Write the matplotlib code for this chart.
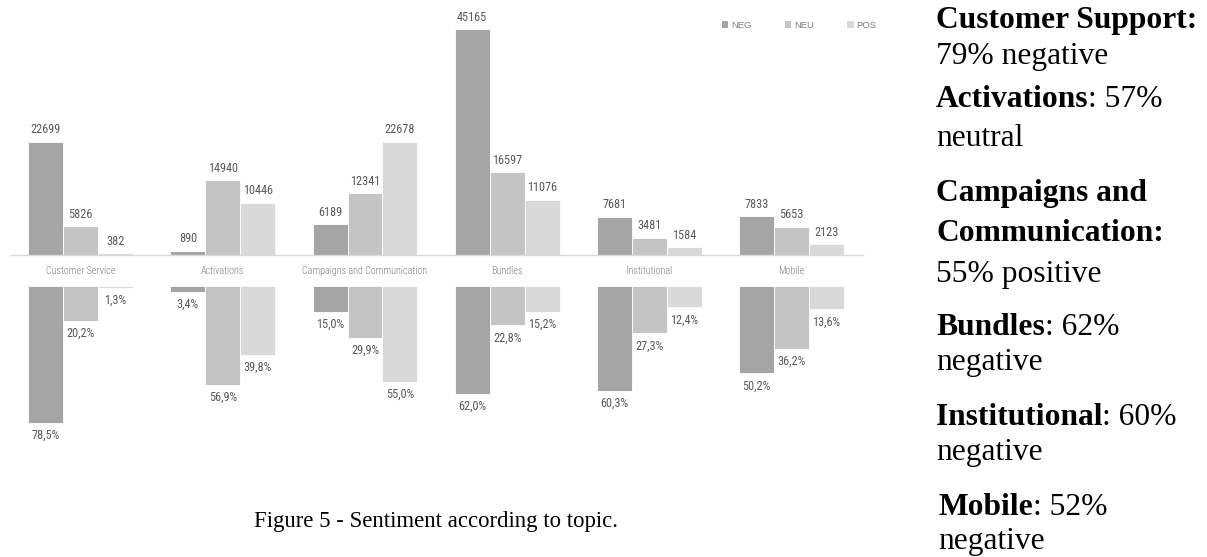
import matplotlib
matplotlib.use('Agg')
import matplotlib.pyplot as plt
from matplotlib.text import Annotation

# sentiment counts and shares per topic
topics = ['Customer Service', 'Activations', 'Campaigns and Communication',
          'Bundles', 'Institutional', 'Mobile']
series = ['NEG', 'NEU', 'POS']
neg_count = [22699, 890, 6189, 45165, 7681, 7833]
neu_count = [5826, 14940, 12341, 16597, 3481, 5653]
pos_count = [382, 10446, 22678, 11076, 1584, 2123]
neg_pct = [78.5, 3.4, 15.0, 62.0, 60.3, 50.2]
neu_pct = [20.2, 56.9, 29.9, 22.8, 27.3, 36.2]
pos_pct = [1.3, 39.8, 55.0, 15.2, 12.4, 13.6]

# side notes: (bold head, regular tail) per line
notes = [
    [('Customer Support:', ''), ('', '79% negative')],
    [('Activations', ': 57%'), ('', 'neutral')],
    [('Campaigns and', ''), ('Communication:', ''), ('', '55% positive')],
    [('Bundles', ': 62%'), ('', 'negative')],
    [('Institutional', ': 60%'), ('', 'negative')],
    [('Mobile', ': 52%'), ('', 'negative')],
]
caption = 'Figure 5 - Sentiment according to topic.'

COLORS = ['#a5a5a5', '#c4c4c4', '#d9d9d9']
C_VAL = '#595959'
C_CAT = '#7f7f7f'
NARROW = ['Roboto Condensed', 'Roboto', 'DejaVu Sans']
SERIF = ['Liberation Serif', 'DejaVu Serif']

W, H = 1207, 557
fig = plt.figure(figsize=(W / 100, H / 100), dpi=100)


def px_axes(left, top, right, bottom):
    return fig.add_axes([left / W, 1 - bottom / H, (right - left) / W, (bottom - top) / H])


bw = 0.246
offsets = [-bw, 0, bw]
x = list(range(len(topics)))

# top: absolute counts
ax = px_axes(9.5, 0, 862.7, 255)
for k, vals in enumerate([neg_count, neu_count, pos_count]):
    xs = [i + offsets[k] for i in x]
    bars = ax.bar(xs, vals, width=bw, color=COLORS[k], edgecolor='white',
                  linewidth=0.6, label=series[k])
    for b, v in zip(bars, vals):
        ax.annotate(str(v), (b.get_x() + b.get_width() / 2, v),
                    textcoords='offset points', xytext=(0, 8.5), ha='center',
                    va='center', fontsize=8.8, color=C_VAL, family=NARROW,
                    fontstretch='condensed')
ax.set_xlim(-0.5, len(topics) - 0.5)
ax.set_ylim(0, 51000)
for s in ['top', 'left', 'right']:
    ax.spines[s].set_visible(False)
ax.spines['bottom'].set_color('#d9d9d9')
ax.spines['bottom'].set_linewidth(1.0)
ax.set_xticks([])
ax.set_yticks([])
for i, t in enumerate(topics):
    ax.annotate(t, (i, 0), xycoords=('data', 'axes fraction'),
                textcoords='offset points', xytext=(0, -11.5), ha='center',
                va='center', fontsize=7.3, color=C_CAT, family=NARROW,
                fontweight='light', fontstretch='condensed')
leg = ax.legend(loc='center left', bbox_to_anchor=(717 / W, 1 - 25 / H),
                bbox_transform=fig.transFigure, ncol=3, frameon=False,
                handlelength=0.7, handleheight=0.7, handletextpad=0.3,
                columnspacing=3.5, borderpad=0,
                prop={'family': 'Liberation Sans', 'size': 6.8})
for t in leg.get_texts():
    t.set_color(C_CAT)
for h in leg.legend_handles:
    h.set_linewidth(0)

# bottom: share within each topic, hanging down
ax2 = px_axes(9.5, 285.7, 862.7, 460.2)
for k, vals in enumerate([neg_pct, neu_pct, pos_pct]):
    xs = [i + offsets[k] for i in x]
    bars = ax2.bar(xs, vals, width=bw, color=COLORS[k], edgecolor='white', linewidth=0.6)
    for b, v in zip(bars, vals):
        ax2.annotate(f'{v:.1f}%'.replace('.', ','), (b.get_x() + b.get_width() / 2, v),
                     textcoords='offset points', xytext=(0, -9), ha='center',
                     va='center', fontsize=8.8, color=C_VAL, family=NARROW,
                     fontstretch='condensed')
ax2.set_xlim(-0.5, len(topics) - 0.5)
ax2.set_ylim(100, 0)
ax2.axis('off')

fig.text(436 / W, 1 - 527 / H, caption, ha='center', va='baseline',
         fontsize=16.4, family=SERIF, color='black')

# notes column on the right
baselines = [[28, 64], [107, 146], [201, 241, 282], [335, 370], [425, 460], [515, 549]]
for para, ys in zip(notes, baselines):
    x0 = 938 if para[0][0] == 'Mobile' else 936
    for (head, tail), y in zip(para, ys):
        if head:
            t = fig.text(x0 / W, 1 - y / H, head, ha='left', va='baseline',
                         fontsize=22.7, fontweight='bold', family=SERIF)
            if tail:
                fig.add_artist(Annotation(tail, xy=(1, 0), xycoords=t, ha='left',
                                          va='bottom', fontsize=22.7, family=SERIF))
        else:
            fig.text(x0 / W, 1 - y / H, tail, ha='left', va='baseline',
                     fontsize=22.7, family=SERIF)

fig.savefig('out.png', dpi=100)
